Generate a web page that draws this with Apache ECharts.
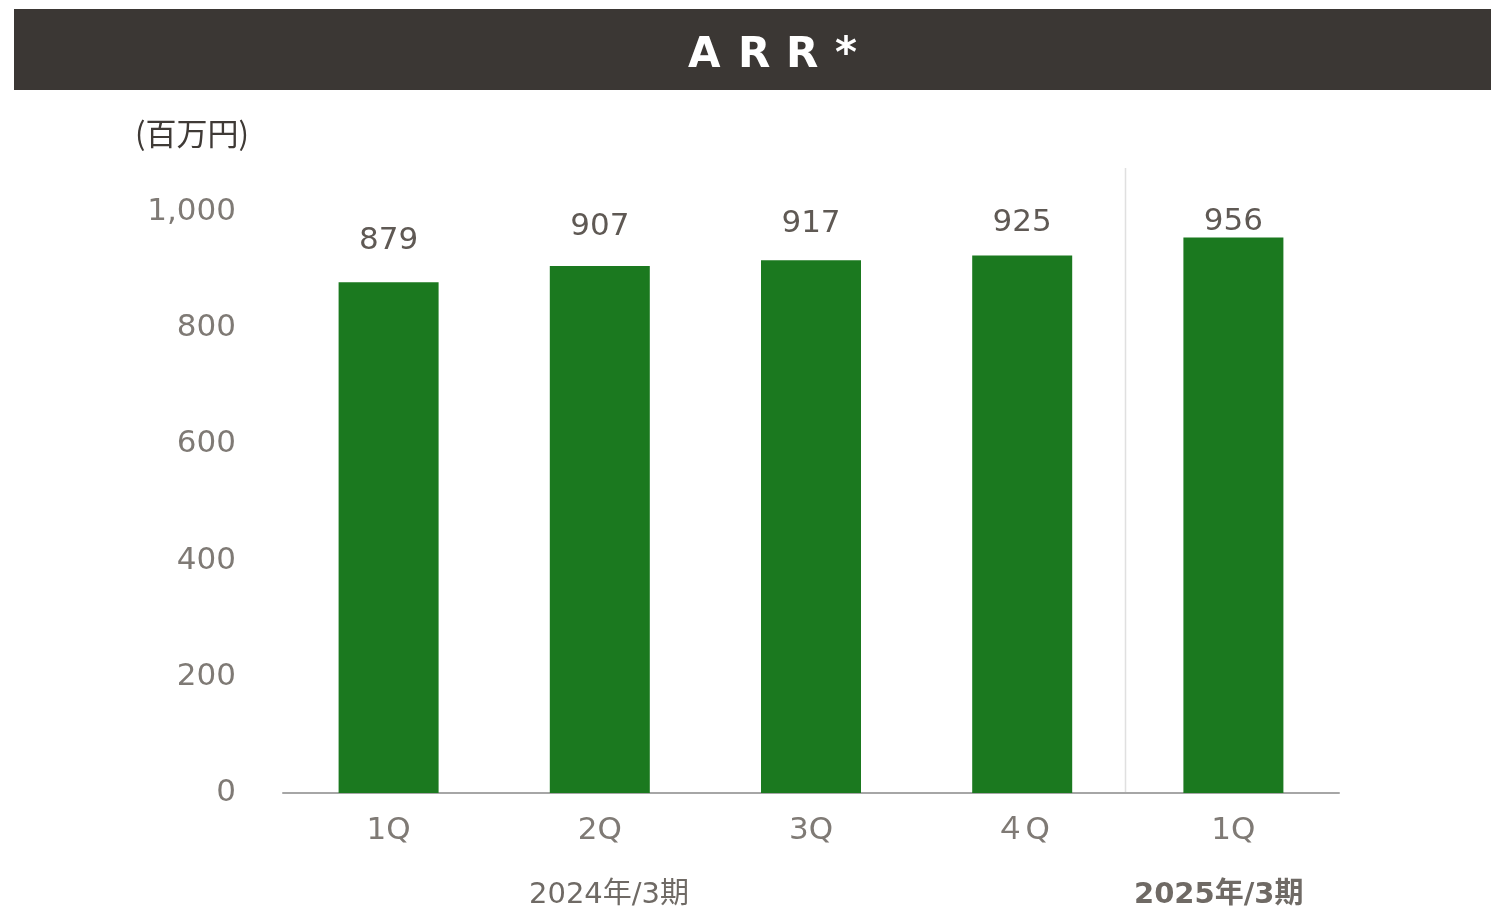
<!DOCTYPE html>
<html>
<head>
<meta charset="utf-8">
<script src="https://cdn.jsdelivr.net/npm/echarts@6/dist/echarts.min.js"></script>
<style>
  html, body { margin: 0; padding: 0; background: #fff; }
  #main { width: 1491px; height: 913px; }
</style>
</head>
<body>
<div id="main"></div>
<script>
var quarters = ['1Q', '2Q', '3Q', '４Q', '1Q'];
var arrValues = [879, 907, 917, 925, 956];
var yTicks = [0, 200, 400, 600, 800, 1000];
var fyLabels = ['2024年/3期', '2025年/3期'];

// label gap above each bar (style only)
var labelGap = [26, 24, 21, 17, 0];

var fontFam = "'DejaVu Sans', 'Noto Sans CJK JP', sans-serif";
var chart = echarts.init(document.getElementById('main'));

var barData = arrValues.map(function (v, i) {
    return { value: v, label: { distance: labelGap[i] } };
});

var titleChars = ['A', 'R', 'R', '*'];
var titleX = [688, 738, 786, 835];
var graphics = [
    { type: 'rect', left: 14, top: 9, shape: { width: 1477, height: 81 }, style: { fill: '#3b3734' } },
    { type: 'text', left: 135, top: 118, style: { text: '(百万円)', fill: '#3f3a36', font: "31px 'Noto Sans CJK JP', sans-serif" } },
    { type: 'text', left: 529, top: 881, style: { text: fyLabels[0], fill: '#6f6a65', font: "29px " + fontFam } },
    { type: 'text', left: 1134, top: 881, style: { text: fyLabels[1], fill: '#6f6a65', font: "bold 29px " + fontFam } }
];
titleChars.forEach(function (c, i) {
    graphics.push({ type: 'text', left: titleX[i], top: 35, style: { text: c, fill: '#fff', font: "bold 42px 'DejaVu Sans', sans-serif" } });
});

var option = {
    backgroundColor: '#fff',
    animation: false,
    grid: { left: 283, right: 152, top: 212, bottom: 120 },
    xAxis: {
        type: 'category',
        data: quarters,
        axisLine: { lineStyle: { color: '#a6a6a6', width: 2 } },
        axisTick: { show: false },
        axisLabel: { color: '#7f7a75', fontSize: 31, fontFamily: fontFam, margin: 22 }
    },
    yAxis: {
        type: 'value',
        min: yTicks[0], max: yTicks[yTicks.length - 1], interval: 200,
        axisLine: { show: false },
        axisTick: { show: false },
        splitLine: { show: false },
        axisLabel: {
            color: '#7f7a75', fontSize: 31, fontFamily: fontFam, margin: 47,
            formatter: function (v) { return v.toLocaleString('en-US'); }
        }
    },
    series: [{
        type: 'bar',
        data: barData,
        barWidth: 100,
        itemStyle: { color: '#1b791f' },
        label: {
            show: true, position: 'top',
            color: '#5f5954', fontSize: 31, fontFamily: fontFam
        }
    }],
    graphic: graphics
};
chart.setOption(option);

// divider between fiscal years
var p3 = chart.convertToPixel({ xAxisIndex: 0, yAxisIndex: 0 }, [3, 0]);
var p4 = chart.convertToPixel({ xAxisIndex: 0, yAxisIndex: 0 }, [4, 0]);
var divX = Math.round((p3[0] + p4[0]) / 2) - 3 + 0.5;
graphics.push({
    type: 'line', z: -1,
    shape: { x1: divX, y1: 168, x2: divX, y2: p3[1] },
    style: { stroke: '#e0e0e0', lineWidth: 1.5 }
});
chart.setOption({ graphic: graphics });
</script>
</body>
</html>
